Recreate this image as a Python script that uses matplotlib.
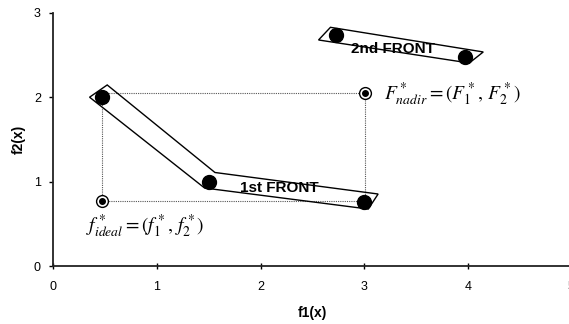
import matplotlib.pyplot as plt
from matplotlib.patches import Polygon

plt.rcParams['font.family'] = ['Liberation Sans', 'DejaVu Sans']
plt.rcParams['mathtext.fontset'] = 'stix'

# solutions of each front
front1_f1 = [0.47, 1.50, 3.00]
front1_f2 = [2.00, 1.00, 0.76]
front2_f1 = [2.73, 3.97]
front2_f2 = [2.74, 2.48]

# ideal and nadir points
ideal = (0.47, 0.77)
nadir = (3.01, 2.05)

# envelopes drawn around each front
front1_env = [(0.35, 2.00), (0.52, 2.145), (1.56, 1.108), (3.135, 0.853),
              (3.04, 0.675), (1.46, 0.924)]
front2_env = [(2.56, 2.678), (2.675, 2.828), (4.15, 2.536), (4.015, 2.405)]

fig = plt.figure(figsize=(5.69, 3.24), dpi=100)
ax = fig.add_axes([0.0937, 0.179, 0.9104, 0.7815])

# dotted box between ideal and nadir
dot = dict(color='#555555', lw=0.8, ls=(0, (1, 1)), zorder=1)
ax.plot([ideal[0], nadir[0]], [nadir[1], nadir[1]], **dot)
ax.plot([ideal[0], nadir[0]], [ideal[1], ideal[1]], **dot)
ax.plot([ideal[0], ideal[0]], [ideal[1], nadir[1]], **dot)
ax.plot([nadir[0], nadir[0]], [ideal[1], nadir[1]], **dot)

for env in (front1_env, front2_env):
    ax.add_patch(Polygon(env, closed=True, fill=False, ec='black', lw=1.0, zorder=2))

ax.plot(front1_f1, front1_f2, 'o', color='black', ms=10, zorder=3)
ax.plot(front2_f1, front2_f2, 'o', color='black', ms=10, zorder=3)

for p in (ideal, nadir):
    ax.plot(p[0], p[1], 'o', mfc='white', mec='black', mew=1.0, ms=8.5, zorder=3)
    ax.plot(p[0], p[1], 'o', color='black', ms=4, zorder=4)

ax.text(2.18, 0.93, '1st FRONT', fontsize=11, fontweight='bold', ha='center', va='center', zorder=1)
ax.text(3.28, 2.57, '2nd FRONT', fontsize=11, fontweight='bold', ha='center', va='center', zorder=1)

ax.text(3.19, 2.04, r'$F^*_{nadir}=(F^*_1,\,F^*_2)$', fontsize=14, ha='left', va='center')
ax.text(0.32, 0.47, r'$f^*_{ideal}=(f^*_1,\,f^*_2)$', fontsize=14, ha='left', va='center')

ax.set_xlim(0, 5)
ax.set_ylim(0, 3)
ax.set_xticks([0, 1, 2, 3, 4, 5])
ax.set_yticks([0, 1, 2, 3])
ax.spines['top'].set_visible(False)
ax.spines['right'].set_visible(False)
for s in ('left', 'bottom'):
    ax.spines[s].set_linewidth(1.3)
    ax.spines[s].set_color('#222222')
ax.tick_params(axis='x', direction='inout', length=5, width=1, labelsize=9, pad=8)
ax.tick_params(axis='y', direction='out', length=3, width=1, labelsize=9, pad=6)
ax.set_xlabel('f1(x)', fontsize=10, fontweight='bold', labelpad=10)
ax.set_ylabel('f2(x)', fontsize=10, fontweight='bold', labelpad=6)

fig.savefig('out.png', dpi=100)
